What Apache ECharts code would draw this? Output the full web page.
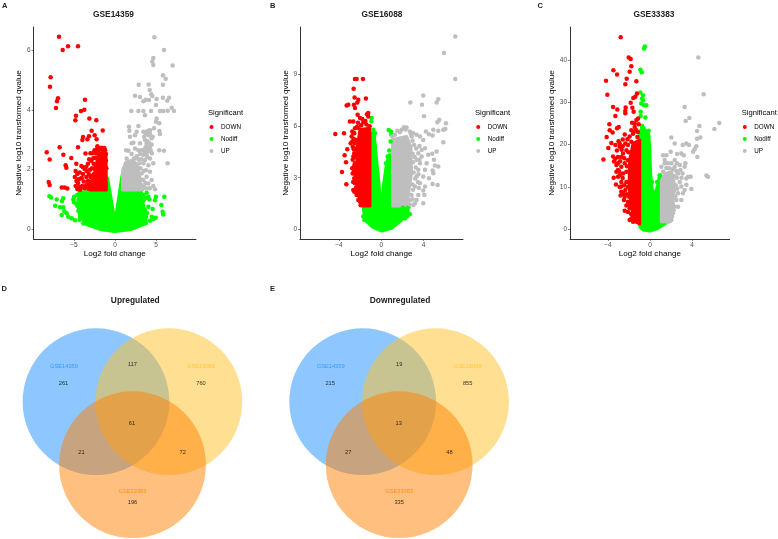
<!DOCTYPE html>
<html>
<head>
<meta charset="utf-8">
<title>Volcano plots and Venn diagrams</title>
<style>
html,body{margin:0;padding:0;background:#fff;}
#chart{width:778px;height:539px;}
</style>
<script src="https://cdn.jsdelivr.net/npm/echarts@6/dist/echarts.min.js"></script>
</head>
<body>
<div id="chart"></div>
<script>
// tick labels
var xTicksA = [-5, 0, 5];
var yTicksA = [0, 2, 4, 6];
var xTicksB = [-4, 0, 4];
var yTicksB = [0, 3, 6, 9];
var xTicksC = [-4, 0, 4];
var yTicksC = [0, 10, 20, 30, 40];

var groups = ['DOWN', 'Nodiff', 'UP'];

// panel A, GSE14359: [log2 fold change, -log10 qvalue]
var downA = [[-6.83,6.44],[-5.73,6.13],[-4.51,6.13],[-6.38,6.0],[-7.85,5.09],[-7.93,4.77],[-6.95,4.39],[-7.07,4.29],[-7.2,4.06],[-3.66,4.34],[-3.74,4.0],[-4.15,3.96],[-4.76,3.8],[-4.84,3.65],[-3.13,3.71],[-2.28,3.65],[-2.85,3.3],[-1.5,3.31],[-3.17,3.12],[-2.48,3.15],[-3.9,3.09],[-3.98,2.99],[-3.37,3.02],[-2.24,3.02],[-4.51,2.75],[-6.75,2.75],[-6.3,2.5],[-8.33,2.58],[-7.97,2.34],[-5.33,2.39],[-6.02,2.15],[-5.93,2.06],[-4.72,2.2],[-8.09,1.59],[-7.97,1.49],[-6.5,1.4],[-6.14,1.4],[-5.81,1.37],
[-4.8,1.95],[-4.6,1.85],[-4.9,1.75],[-4.7,1.62],[-4.5,1.55],[-4.8,1.45],[-4.6,1.35],[-4.35,1.42],[-4.2,1.7],[-4.3,1.9],[-4.1,2.12],[-3.9,2.08],[-3.7,2.02],[-3.5,2.1],[-3.3,2.2],[-3.6,2.54],[-3.0,2.55],[-3.2,1.85],[-3.5,1.75],[-3.8,1.6],[-4.0,1.45],[-3.7,1.38],[-3.4,1.5],[-3.1,1.4],[-3.3,1.62],[-3.0,1.75],[-2.8,2.05],[-2.9,2.3],[-2.7,2.55],[-2.6,2.2],[-2.55,1.85],[-2.8,1.55],[-2.6,1.4],[-2.5,2.65],[-2.4,2.4],[-2.2,2.68],[-2.0,2.66],[-1.75,2.68],[-1.5,2.65],[-1.4,2.55],[-1.25,2.5],[-2.3,2.55],[-1.9,2.5],[-1.1,2.3],[-1.05,2.05],[-2.35,2.1],[-2.45,1.6],
[-4.25,1.33],[-4.05,1.72],[-3.85,1.4],[-3.55,1.45],[-3.25,1.36],[-2.95,1.6],[-3.05,2.0],[-3.15,2.35],[-2.75,1.8],[-2.65,2.38],[-2.45,2.0],[-2.15,2.78],[-1.65,2.73],[-1.2,2.65],[-1.3,2.72],[-1.85,2.72],[-1.1,2.52],[-3.45,1.95],[-3.9,1.85],[-4.45,1.68]];
var nodiffA = [[-8.0,1.11],[-7.8,1.07],[-7.11,1.0],[-7.3,0.79],[-6.3,1.04],[-6.46,0.95],[-6.7,0.74],[-6.3,0.74],[-6.5,0.48],[-6.18,0.61],[-5.9,0.54],[-5.7,0.42],[-5.28,0.37],[-4.88,0.31],[-5.08,1.0],[-5,0.91],[-4.76,0.87],[-4.6,0.79],[-4.47,0.62],[-4.27,0.42],[-5,1.09],[6.02,1.09],[5,1.09],[4.88,0.98],[5.65,0.82],[4.59,0.68],[5.81,0.59],[5.89,0.5],[4.96,0.39],[4.67,0.35],[4.27,0.29],[4.07,1.09],[3.86,1.23],[3.46,0.98],[4.07,0.76],[3.66,0.65],[3.25,0.81],[3.46,1.15],[3.25,0.53],[3.78,0.42],[3.46,0.31],[4.2,1.0],[3.75,1.05],[3.9,0.55],[4.5,0.42],[-4.45,1.0],[-4.6,1.15],[-4.3,0.32],[-3.85,0.2]];
var upA = [[4.8,6.43],[5.98,6.0],[4.67,5.73],[4.55,5.62],[4.67,5.5],[7.03,5.48],[5.85,5.16],[6.18,5.04],[2.89,4.84],[4.1,4.85],[5.85,4.84],[4.23,4.66],[4.43,4.52],[2.44,4.47],[3.05,4.43],[4.55,4.46],[5.85,4.4],[6.59,4.4],[6.38,4.3],[3.46,4.29],[3.74,4.34],[4.15,4.33],[5.08,4.36],[1.99,3.96],[2.85,3.96],[3.46,3.96],[4.39,3.96],[5.49,3.96],[5.89,3.96],[6.42,3.97],[6.91,4.07],[7.2,3.96],[5,4.16],[3.66,3.82],[5.08,3.71],[5,3.6],[1.71,3.43],[1.75,3.3],[1.83,3.1],[2.44,3.15],[2.64,3.27],[2.85,3.46],[3.46,3.27],[3.86,3.27],[4.27,3.32],[4.76,3.38],[5.41,3.29],[5.41,3.55],[5.49,3.19],[4.07,3.15],[4.59,3.1],[4.27,3.21],[2.03,2.88],[2.24,2.9],[3.05,2.88],[3.86,2.88],[4.15,2.9],[4.47,2.84],[1.63,2.63],[1.34,2.65],[2.44,2.71],[2.85,2.65],[3.25,2.65],[3.66,2.71],[4.07,2.71],[4.35,2.65],[5.41,2.65],[5.98,2.63],[3.86,2.52],[3.46,2.49],[3.05,2.52],[2.64,2.45],[4.27,2.37],[2.32,2.37],[2.03,2.52],[1.42,2.37],[1.83,2.26],[3.66,2.32],[6.42,2.21],[4.67,2.21],[4.07,2.15],[3.46,2.21],[2.97,2.21],[2.64,2.1],[3.78,1.98],[4.27,1.93],[3.25,1.87],[3.86,1.76],[4.47,1.65],[3.46,1.65],[4.07,1.54],[4.67,1.45],[4.88,1.34],[3.86,1.37],[3.25,1.48],[3.95,2.95],[4.2,2.62],[3.95,2.42],[3.6,2.6],[3.75,3.2],[3.55,3.1],
[4.45,3.05],[4.05,3.3],[3.65,3.0],[4.3,2.78],[4.0,2.62],[3.8,2.78],[4.5,2.55],[3.2,2.35],[2.85,2.35],[2.5,2.2],[3.1,2.05],[2.8,1.95],[3.5,1.95],[3.15,1.68],[3.55,1.42],[3.35,1.35],[4.25,1.38],[3.7,1.55],[1.15,2.0],[1.1,1.8]];
// outlines of the solid parts of panel A, where single points cannot be told apart
var downCoreA = [[-3.0,1.32],[-3.0,1.55],[-2.4,1.8],[-2.2,2.3],[-1.9,2.55],[-1.1,2.55],[-1.05,1.32]];
var nodiffCoreA = [[0,0.25],[-0.9,1.72],[-1.05,1.72],[-1.05,1.28],[-2.5,1.28],[-4.4,1.25],[-4.5,0.75],[-4.3,0.45],[-3.4,0.15],[-1.83,0.0],[0,-0.07],[2,0],[3.86,0.2],[3.6,0.6],[3.2,1.28],[1.0,1.32],[1.0,1.8],[0.85,1.8]];
var upCoreA = [[0.93,1.32],[0.93,1.98],[1.34,2.26],[2.24,2.32],[2.72,2.1],[3.0,1.76],[3.2,1.32]];

// panel B, GSE16088
var downB = [[-2.48,8.74],[-2.33,8.74],[-1.73,8.74],[-2.61,8.17],[-2.52,7.67],[-2.17,7.53],[-1.45,7.61],[-2.26,7.38],[-3.11,7.24],[-3.27,7.2],[-2.58,7.24],[-2.48,7.05],[-1.23,6.76],[-1.23,6.56],[-2.23,6.66],[-2.01,6.47],[-1.79,6.41],[-2.64,6.27],[-1.7,6.23],[-2.96,6.27],[-4.34,5.55],[-3.52,5.59],[-2.74,5.69],[-2.48,5.88],[-3.21,4.66],[-3.46,4.31],[-3.33,3.9],[-3.71,3.34],[-3.3,2.62],[-2.64,2.29],[-2.55,2.19],[-2.33,2.0],[-2.8,5.4],[-2.89,5.0],[-2.7,4.8],[-2.64,4.23],[-2.48,3.84],[-2.58,3.36],[-2.55,2.97],[-2.48,2.68],[-2.17,1.71],[-1.86,1.48],[-2.08,2.1],[-2.74,5.11],[-2.39,5.2],[-2.55,5.59],[-2.55,4.43],[-2.39,3.55],[-2.26,3.07],[-2.26,2.58],[-1.4,6.1],[-1.1,6.0],[-1.9,6.05],[-2.3,5.95],
[-2.6,5.25],[-2.5,5.0],[-2.45,4.7],[-2.6,4.65],[-2.45,4.2],[-2.7,4.05],[-2.55,3.7],[-2.75,3.55],[-2.45,3.2],[-2.7,3.25],[-2.4,2.9],[-2.65,2.75],[-2.4,2.4],[-2.3,2.2],[-2.05,1.9],[-2.0,1.6],[-1.95,1.4],[-2.15,5.9],[-2.65,5.6],[-1.5,6.3],[-2.2,6.2],[-1.35,6.7]];
var nodiffB = [[-0.91,6.47],[-0.94,6.27],[-0.75,5.79],[-0.6,5.59],[-0.69,5.44],[0.69,5.77],[0.91,5.69],[0.94,5.5],[0.88,5.11],[0.75,4.58],[0.6,4.23],[0.44,3.84],[2.7,0.89],[2.48,0.78],[2.23,0.64],[2.55,1.28],[1.92,0.93],[-1.6,0.54],[-0.6,4.82],[2.3,1.15],[2.05,1.25],[-1.7,0.75]];
var upB = [[6.98,11.22],[5.91,10.25],[6.98,8.74],[3.96,7.79],[2.74,7.38],[3.84,7.24],[5.38,7.57],[5.22,7.38],[4.03,6.58],[6.1,6.17],[5.47,6.37],[5.28,6.23],[4.91,5.79],[4.5,5.53],[4.84,5.46],[4.21,5.69],[5.85,5.79],[6.04,5.83],[5.38,5.73],[5.85,5.07],[5.22,4.52],[4.81,4.39],[4.97,4.04],[5.06,3.71],[5.38,3.65],[4.84,3.42],[4.91,3.26],[4.5,2.97],[5.31,2.58],[4.84,2.64],[3.96,1.51],[4.06,2.0],[3.96,2.25],[4.12,2.49],[3.33,1.71],[3.18,1.51],[3.02,1.42],[3.49,2.0],[3.65,2.68],[3.96,3.07],[4.12,3.46],[4.28,3.84],[4.43,4.33],[4.12,4.72],[3.81,4.62],[3.96,5.2],[3.65,5.4],[3.33,5.5],[3.02,5.59],[2.39,5.92],[2.14,5.94],[1.92,5.79],[1.51,5.73],[1.29,5.5],[1.04,5.4],[3.49,4.43],[3.33,4.04],[3.49,3.46],[3.65,3.84],[3.33,3.07],[3.18,2.49],[3.81,4.23],[2.7,5.69],[2.86,5.4],
[3.1,4.9],[3.3,4.7],[2.95,4.4],[3.15,4.2],[3.0,3.9],[3.25,3.6],[3.05,3.3],[3.2,2.95],[3.5,3.2],[3.45,2.75],[2.95,2.6],[3.0,2.3],[2.85,2.0],[2.75,1.7],[2.65,1.45],[2.95,1.75],[3.55,2.4],[3.6,4.05],[2.3,5.8],[1.75,5.65],[2.95,5.15],[3.6,4.85],[2.8,5.55]];
var downCoreB = [[-1.07,1.36],[-1.07,5.88],[-2.01,5.8],[-2.3,4.62],[-2.3,3.26],[-2.15,2.29],[-1.8,1.36]];
var nodiffCoreB = [[-0.97,5.59],[-0.69,5.59],[-0.44,4.04],[-0.19,2.49],[0,0.93],[0.19,2.49],[0.5,3.84],[0.75,4.33],[1.04,4.33],[1.04,1.36],[2.14,1.36],[2.55,1.09],[1.92,0.54],[0.97,0.06],[0.03,-0.1],[-0.91,0.16],[-1.54,0.54],[-1.7,1.22],[-1.04,1.36]];
var upCoreB = [[1.07,1.36],[1.07,5.2],[1.6,5.3],[2.4,5.4],[2.8,4.8],[2.85,3.26],[2.6,2.19],[2.4,1.36]];

// panel C, GSE33383
var downC = [[-2.79,45.4],[-2.03,40.6],[-1.84,40.25],[-1.78,38.5],[-1.94,37.2],[-3.49,37.6],[-3.14,36.6],[-4.19,35.1],[-2.22,35.6],[-1.3,35],[-2.35,34.3],[-4.06,31.8],[-1.24,32.1],[-1.4,31.3],[-1.59,31.05],[-1.84,29.9],[-3.52,28.9],[-3.11,28.3],[-2.32,28.8],[-2.35,28],[-2.35,27.4],[-1.68,28.7],[-1.56,27.75],[-3.3,26.8],[-1.14,26.2],[-1.3,25.8],[-1.71,25.2],[-1.46,25],[-1.08,24.8],[-3.87,24.8],[-2.98,24.2],[-3.14,23.9],[-3.84,23.4],[-3.56,22.9],[-4.13,21.8],[-3.68,20.4],[-3.97,19.2],[-4.44,16.5],[-3.52,17.2],[-3.43,16],[-3.05,15.6],[-3.46,12.2],[-3.24,10.6],[-3.05,14],[-2.73,8.9],[-2.41,7.7],[-2.41,4.4],[-1.94,5],[-1.94,2.2],[-1.62,3.4],[-2.1,6.5],[-2.48,6.9],[-2.73,11.2],[-2.89,12.8],[-2.57,13.2],[-2.73,14.8],[-3.05,17.1],[-2.73,17.1],[-2.89,19.5],[-2.89,20.3],[-2.57,17.9],[-2.35,20.3],[-2.1,19.9],[-2.25,18.7],[-2.41,15.6],[-2.25,13.6],[-2.25,11.2],[-2.1,10],[-2.35,9.3],[-1.94,21.9],[-1.62,22.6],[-1.78,23.4],[-1.46,24.2],[-1.3,23.4],[-1.78,20.7],[-3.2,13.6],[-3.05,12.4],[-2.89,10],[-2.1,16.3],[-1.9,14.8],[-2.0,7.7],[-1.85,5.3],[-2.1,4.1],[-1.62,1.8],[-1.3,2.2],
[-2.6,19.6],[-2.7,18.8],[-2.45,16.8],[-2.85,16.1],[-3.15,18.6],[-3.3,19.9],[-3.0,20.8],[-2.6,21.2],[-2.4,22.4],[-2.15,21.3],[-2.05,18.2],[-2.2,14.9],[-2.6,12.1],[-2.45,10.4],[-2.75,10.1],[-2.2,8.3],[-2.05,5.8],[-2.25,5.6],[-1.8,3.6],[-1.75,2.6],[-3.2,15.2],[-3.3,16.7],[-2.95,13.7],[-2.8,8.0],[-2.55,8.5],[-1.5,23.1],[-1.15,23],[-1.2,21.8]];
var nodiffC = [[-0.57,42.7],[-0.48,43.2],[-0.92,37.7],[-0.79,37.1],[-0.92,32.3],[-0.67,31.7],[-0.76,30.9],[-0.67,30.5],[-0.83,29.7],[-0.57,29.3],[-0.35,29.3],[-0.89,27.75],[-0.89,26.8],[-0.44,26.4],[-0.76,24.4],[-0.13,23.3],[-0.19,21.9],[0.19,11.2],[0.67,11.2],[0.92,12.8]];
var upC = [[4.6,40.6],[5.11,31.9],[3.3,28.9],[3.75,26.3],[3.4,25.6],[6.6,25.1],[6.13,23.7],[4.7,24.4],[4.48,23.2],[4.79,21.7],[4.48,21.4],[2.03,21.7],[3.46,20.3],[3.11,19.9],[3.71,19.9],[4.41,19.65],[4.25,18.9],[4.1,18.3],[4.51,17.1],[2.35,20.3],[2.57,17.8],[1.97,18.3],[1.56,17.5],[1.24,17.5],[2.98,17.9],[3.21,17.5],[5.37,12.7],[5.52,12.4],[3.94,9.5],[3.62,12.4],[3.87,12.4],[3.46,12],[3.46,10.5],[3.3,9.3],[3.14,8.5],[2.98,6.9],[2.67,5.35],[3.3,14.8],[3.37,15.6],[2.89,14],[2.57,15.6],[2.35,16.35],[2.67,13.2],[2.83,11.2],[2.98,10.1],[2.67,8.5],[2.51,6.9],[2.19,3.8],[2.03,2.2],[1.71,1.8],[1.87,2.6],[2.35,5.35],[2.35,14.8],[2.03,15.6],[1.71,15.6],[1.4,15.6],[1.08,14.8],[1.4,16.35],
[2.2,14.2],[1.85,14.4],[1.55,14.5],[2.5,13.8],[2.55,12.2],[2.35,12.6],[2.45,10.4],[2.6,9.6],[2.3,9.1],[2.4,7.8],[2.2,7.2],[2.25,4.5],[2.1,3.0],[1.95,5.0],[2.15,5.9],[1.25,13.6],[2.85,15.2],[3.1,13.2],[3.0,12.2]];
var downCoreC = [[-0.98,21.1],[-1.62,20.3],[-1.94,16.35],[-2,10.1],[-1.78,5.35],[-1.46,1.8],[-0.98,1.26]];
var nodiffCoreC = [[-0.98,1.4],[-0.98,22.6],[-0.73,24.6],[-0.35,23],[-0.13,22.6],[-0.03,19.5],[0.06,13.2],[0.19,9.7],[0.44,8.1],[0.7,10.1],[0.92,12.8],[1.05,12.8],[1.05,1.6],[1.49,1.4],[0.76,0.24],[0,-0.4],[-0.67,-0.16],[-0.98,0.63]];
var upCoreC = [[1.08,1.8],[1.08,11.6],[1.5,13.2],[2.05,13.6],[2.3,10.85],[2.2,6.1],[1.95,1.8]];

// venn counts, in the order of vennSlots below
var vennSets = ['GSE14359', 'GSE16088', 'GSE33383'];
var upCounts = [261, 117, 760, 21, 61, 72, 196];
var downCounts = [215, 19, 855, 27, 13, 48, 335];

var RED = '#ff0000', GREEN = '#00ff00', GREY = '#bebebe';
var FONT = '"Liberation Sans", Arial, sans-serif';

// layout of the volcano panels
var panels = [
    {title:'GSE14359', left:33.5, right:196, xmin:-9.94, xmax:9.88, ymin:-0.32, ymax:6.77, xt:xTicksA, yt:yTicksA, nameGap:8.3,
     legendDot:214, titleX:208, tx:113.5, letter:'A', lx:2, down:downA, nod:nodiffA, up:upA, dc:downCoreA, nc:nodiffCoreA, uc:upCoreA},
    {title:'GSE16088', left:300, right:463, xmin:-7.67, xmax:7.71, ymin:-0.565, ymax:11.77, xt:xTicksB, yt:yTicksB, nameGap:8.2,
     legendDot:480.7, titleX:475, tx:382, letter:'B', lx:270, down:downB, nod:nodiffB, up:upB, dc:downCoreB, nc:nodiffCoreB, uc:upCoreB},
    {title:'GSE33383', left:570, right:729.7, xmin:-7.62, xmax:7.59, ymin:-2.29, ymax:47.8, xt:xTicksC, yt:yTicksC, nameGap:11.5,
     legendDot:747.3, titleX:741.7, tx:654, letter:'C', lx:537.5, down:downC, nod:nodiffC, up:upC, dc:downCoreC, nc:nodiffCoreC, uc:upCoreC}
];
var plotTop = 27, plotBottom = 239;

function minus(v){
    return String(v).replace('-', '\u2212');
}

function coreSeries(idx, name, pts, color){
    return {
        type: 'custom', name: name, xAxisIndex: idx, yAxisIndex: idx, silent: true, clip: true,
        encode: {x: 0, y: 1},
        data: pts,
        renderItem: function(params, api){
            if (params.dataIndex !== 0) return null;
            return {
                type: 'polygon',
                shape: {points: pts.map(function(p){ return api.coord(p); })},
                style: {fill: color, stroke: color, lineWidth: 3, lineJoin: 'round'}
            };
        }
    };
}

function pointSeries(idx, name, pts, color){
    return {
        type: 'scatter', name: name, xAxisIndex: idx, yAxisIndex: idx, silent: true,
        symbol: 'circle', symbolSize: 4.5,
        itemStyle: {color: color, opacity: 1},
        data: pts
    };
}

var grids = [], xAxes = [], yAxes = [], series = [], legends = [], titles = [];

panels.forEach(function(p, i){
    grids.push({left: p.left, width: p.right - p.left, top: plotTop, height: plotBottom - plotTop, containLabel: false});
    var axisLine = {show: true, onZero: false, lineStyle: {color: '#333333', width: 1}};
    var tick = {show: true, length: 2, lineStyle: {color: '#333333', width: 0.6}};
    xAxes.push({
        gridIndex: i, type: 'value', min: p.xmin, max: p.xmax, splitLine: {show: false},
        axisLine: axisLine,
        axisTick: Object.assign({customValues: p.xt}, tick),
        axisLabel: {customValues: p.xt, formatter: minus, color: '#4d4d4d', fontSize: 6.5, fontFamily: FONT, margin: 2.5},
        name: 'Log2 fold change', nameLocation: 'middle', nameGap: 11,
        nameTextStyle: {color: '#000', fontSize: 8.1, fontFamily: FONT}
    });
    yAxes.push({
        gridIndex: i, type: 'value', min: p.ymin, max: p.ymax, splitLine: {show: false},
        axisLine: axisLine,
        axisTick: Object.assign({customValues: p.yt}, tick),
        axisLabel: {customValues: p.yt, formatter: minus, color: '#4d4d4d', fontSize: 6.5, fontFamily: FONT, margin: 3},
        name: 'Negative log10 transformed qvalue', nameLocation: 'middle', nameGap: p.nameGap,
        nameTextStyle: {color: '#000', fontSize: 8.1, fontFamily: FONT}
    });
    series.push(coreSeries(i, 'nodiff core ' + i, p.nc, GREEN));
    series.push(pointSeries(i, groups[1], p.nod, GREEN));
    series.push(coreSeries(i, 'up core ' + i, p.uc, GREY));
    series.push(pointSeries(i, groups[2], p.up, GREY));
    series.push(coreSeries(i, 'down core ' + i, p.dc, RED));
    series.push(pointSeries(i, groups[0], p.down, RED));

    legends.push({
        show: true, orient: 'vertical', left: p.legendDot - 4.5, top: 123, padding: 0,
        data: groups, selectedMode: false, icon: 'circle', itemWidth: 9, itemHeight: 4, itemGap: 4,
        textStyle: {fontSize: 6.3, fontFamily: FONT, color: '#000', lineHeight: 8}
    });
    titles.push({text: 'Significant', left: p.titleX, top: 113.3, textVerticalAlign: 'middle', padding: 0,
        textStyle: {fontSize: 7.6, fontWeight: 'normal', color: '#000', fontFamily: FONT}});
    titles.push({text: p.title, left: p.tx, top: 15, textAlign: 'center', textVerticalAlign: 'middle', padding: 0,
        textStyle: {fontSize: 8.4, fontWeight: 'bold', color: '#222', fontFamily: FONT}});
    titles.push({text: p.letter, left: p.lx, top: 5.5, textVerticalAlign: 'middle', padding: 0,
        textStyle: {fontSize: 7.5, fontWeight: 'bold', color: '#222', fontFamily: FONT}});
});

// venn panels share one hidden axis pair that runs in page units
var vennIdx = panels.length;
grids.push({left: 0, top: 0, width: 778, height: 539});
xAxes.push({gridIndex: vennIdx, type: 'value', min: 0, max: 778, show: false});
yAxes.push({gridIndex: vennIdx, type: 'value', min: 0, max: 539, inverse: true, show: false});

var vennCircles = [[96, 401.7], [168.8, 401.7], [132.5, 464.7]];
var vennFill = ['rgba(30,144,255,0.5)', 'rgba(255,193,37,0.5)', 'rgba(255,127,0,0.5)'];
var vennText = ['#1e90ff', '#ffc125', '#ff7f00'];
var vennNameSlots = [[64, 366.7], [201, 366.7], [132.5, 491]];
var vennSlots = [[63.5, 383], [132.5, 364.7], [201, 383], [81.5, 452], [132, 423], [182.7, 452], [132.5, 502]];

function vennPanel(counts, title, letter, dx, letterX, titleX){
    vennCircles.forEach(function(c, k){
        series.push({
            type: 'scatter', name: title + ' ' + vennSets[k], xAxisIndex: vennIdx, yAxisIndex: vennIdx, silent: true,
            symbol: 'circle', symbolSize: 146.8, clip: false,
            itemStyle: {color: vennFill[k], opacity: 1},
            data: [[c[0] + dx, c[1]]]
        });
    });
    var textStyle = {show: true, position: 'inside', fontSize: 5.7, fontFamily: FONT};
    series.push({
        type: 'scatter', name: title + ' sets', xAxisIndex: vennIdx, yAxisIndex: vennIdx, silent: true,
        symbolSize: 1, itemStyle: {color: 'transparent'},
        data: vennSets.map(function(s, k){
            return {
                value: [vennNameSlots[k][0] + dx, vennNameSlots[k][1]],
                label: Object.assign({formatter: s, color: vennText[k]}, textStyle)
            };
        })
    });
    series.push({
        type: 'scatter', name: title + ' counts', xAxisIndex: vennIdx, yAxisIndex: vennIdx, silent: true,
        symbolSize: 1, itemStyle: {color: 'transparent'},
        data: counts.map(function(n, k){
            return {
                value: [vennSlots[k][0] + dx, vennSlots[k][1]],
                label: Object.assign({formatter: String(n), color: '#000'}, textStyle)
            };
        })
    });
    titles.push({text: title, left: titleX, top: 300.7, textAlign: 'center', textVerticalAlign: 'middle', padding: 0,
        textStyle: {fontSize: 8.4, fontWeight: 'bold', color: '#222', fontFamily: FONT}});
    titles.push({text: letter, left: letterX, top: 288.5, textVerticalAlign: 'middle', padding: 0,
        textStyle: {fontSize: 7.5, fontWeight: 'bold', color: '#222', fontFamily: FONT}});
}
vennPanel(upCounts, 'Upregulated', 'D', 0, 1.5, 135.3);
vennPanel(downCounts, 'Downregulated', 'E', 266.7, 270, 400);

var myChart = echarts.init(document.getElementById('chart'));
myChart.setOption({
    animation: false,
    backgroundColor: '#fff',
    textStyle: {fontFamily: FONT},
    title: titles,
    legend: legends,
    grid: grids,
    xAxis: xAxes,
    yAxis: yAxes,
    series: series
});
</script>
</body>
</html>
